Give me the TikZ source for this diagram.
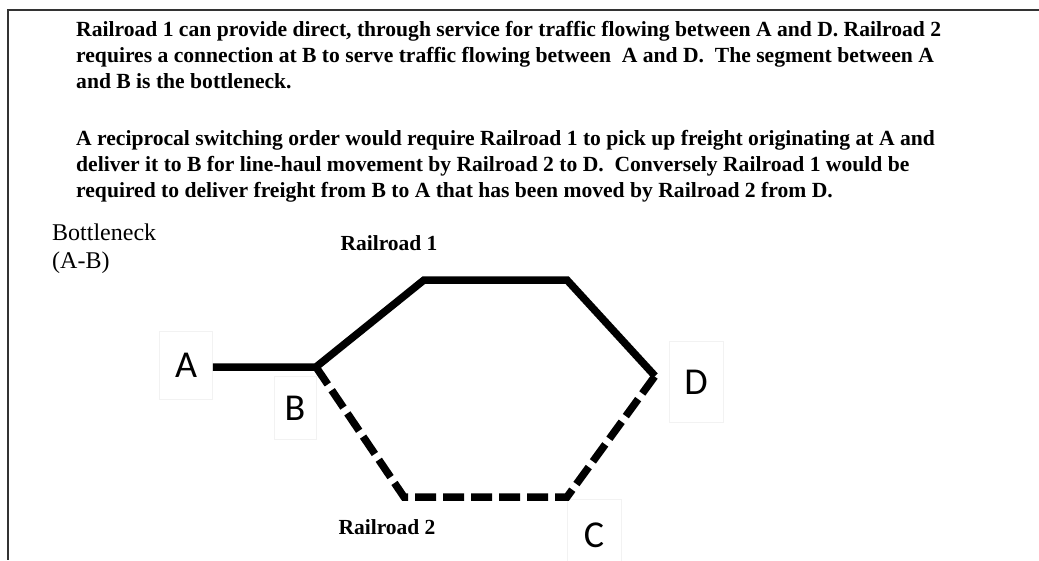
\documentclass[tikz,border=0pt]{standalone}
\usepackage{fontspec}
\setmainfont{Liberation Serif}
\newfontfamily\lettersf{Carlito}
\usetikzlibrary{positioning}

\begin{document}
\begin{tikzpicture}[x=1pt,y=-1pt,line join=miter,
    track/.style={line width=7.5pt},
    swtrack/.style={track,dash pattern=on 21pt off 7pt},
    letterbox/.style={draw=black!5,line width=0.8pt,inner sep=0pt,
      font=\lettersf\fontsize{38}{38}\selectfont},
    para/.style={anchor=north west,align=left,inner sep=0pt,
      font=\bfseries\fontsize{21.6}{26}\selectfont},
    rrlabel/.style={font=\bfseries\fontsize{21.5}{24}\selectfont}]
  \useasboundingbox (0,0) rectangle (1039,560);

  %% Frame (top and left edges only).
  \draw[line width=2pt,black!80] (1039,10) -- (8,10) -- (8,560);

  %% Explanation text.
  \node[para] (intro) at (76,21) {Railroad 1 can provide direct, through service for traffic flowing between A and D. Railroad 2\\
    requires a connection at B to serve traffic flowing between\ \ A and D.\ \ The segment between A\\
    and B is the bottleneck.};
  \node[para] (order) at (76,130) {A reciprocal switching order would require Railroad 1 to pick up freight originating at A and\\
    deliver it to B for line-haul movement by Railroad 2 to D.\ \ Conversely Railroad 1 would be\\
    required to deliver freight from B to A that has been moved by Railroad 2 from D.};

  \node[anchor=north west,align=left,inner sep=0pt,font=\fontsize{24}{28}\selectfont]
    (neck) at (52,224) {Bottleneck\\(A-B)};

  %% Station labels in their boxes.
  \node[letterbox,minimum width=53pt,minimum height=68pt] (A) at (186,365) {A};
  \node[letterbox,minimum width=42pt,minimum height=63pt] (B) at (295,408) {B};
  \node[letterbox,minimum width=54pt,minimum height=81pt] (D) at (696,382) {D};
  \node[letterbox,minimum width=54pt,minimum height=72pt] (C) at (594,535) {C};

  %% Track corners.
  \foreach \pt/\name in {{316,367}/jB,{424,280}/nw,{567,280}/ne,{655,376}/jD,{567,497}/se,{404,497}/sw}
    \coordinate (\name) at (\pt);

  %% Railroad 1 (through line) and Railroad 2 (dashed).
  \draw[track] (A.east |- jB) -- (jB) -- (nw) -- (ne) -- (jD);
  \draw[swtrack] (jB) -- (sw) -- (se) -- (jD);

  \node[rrlabel] (rr1) at (389,243) {Railroad 1};
  \node[rrlabel] (rr2) at (387,527) {Railroad 2};
\end{tikzpicture}
\end{document}
